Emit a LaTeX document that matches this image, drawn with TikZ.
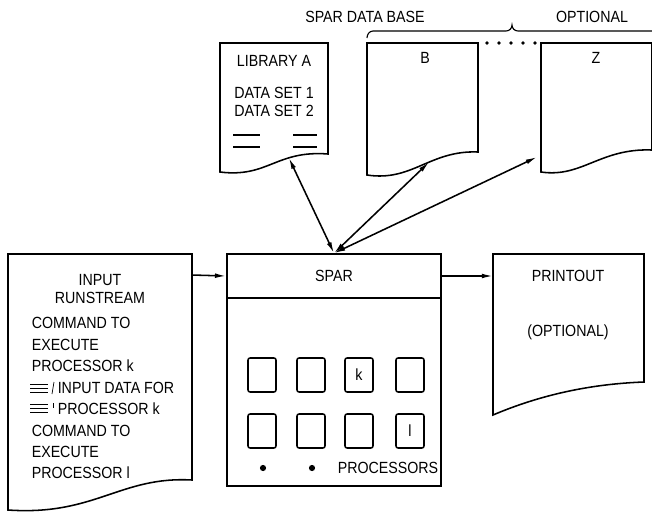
\documentclass[tikz,border=0pt]{standalone}
\usepackage{fontspec}
\setmainfont{Liberation Sans}[FakeStretch=0.88]
\usetikzlibrary{arrows.meta}

\tikzset{
  both/.style={{Latex[length=8pt,width=3.4pt]}-{Latex[length=8pt,width=3.4pt]}},
  feed/.style={-{Latex[length=8pt,width=3.4pt]}},
  procbox/.style={draw, rounded corners=1.5pt, minimum width=0.7cm, minimum height=0.85cm},
  txt/.style={font=\fontsize{11.5}{13}\selectfont, inner sep=0pt},
}

\begin{document}
\begin{tikzpicture}[x=0.025cm, y=-0.025cm, line width=1.1pt]
  \useasboundingbox (0,0) rectangle (652,522);

  % data base heading and brace
  \node[txt] (dbase) at (365,17) {SPAR DATA BASE};
  \node[txt] (opt) at (592,17) {OPTIONAL};
  \draw[line width=0.8pt] (367,38) to[out=90,in=180] (373,31) -- (506,31)
    to[out=0,in=-90] (512,25) to[out=-90,in=180] (518,31) -- (660,31);

  % library A
  \draw (220,43) -- (328,43) -- (328,154)
    .. controls (276,150) and (268,178) .. (220,172) coordinate[pos=0.32] (libfoot) -- cycle;
  \node[txt] (liba) at (274,61) {LIBRARY A};
  \node[txt] (set1) at (274,93) {DATA SET 1};
  \node[txt] (set2) at (274,111) {DATA SET 2};
  \draw (233,135) -- (260,135);
  \draw (233,147) -- (260,147);
  \draw (293,135) -- (317,135);
  \draw (293,147) -- (317,147);

  % data base files B ... Z
  \draw (367,43) -- (478,43) -- (478,152)
    .. controls (430,150) and (412,182) .. (367,175) coordinate[pos=0.42] (bfoot) -- cycle;
  \node[txt] (bfile) at (425,58) {B};
  \draw (541,43) -- (652,43) -- (652,150)
    .. controls (600,148) and (582,178) .. (541,172) -- cycle;
  \node[txt] (zfile) at (596,58) {Z};
  \coordinate (zfoot) at (537,157);
  \foreach \x in {487,499,511,523,535}
    \fill (\x,43) circle (1.3pt);

  % input runstream
  \draw (8,254) -- (192,254) -- (192,480)
    .. controls (120,476) and (95,516) .. (8,510) -- cycle;
  \coordinate (inright) at (192,275);
  \node[txt] (inp) at (100,280) {INPUT};
  \node[txt] (runs) at (100,298) {RUNSTREAM};
  \node[txt, anchor=west] (c1) at (31,323) {COMMAND TO};
  \node[txt, anchor=west] (e1) at (31,345) {EXECUTE};
  \node[txt, anchor=west] (pk) at (31,366) {PROCESSOR k};
  \node[txt, anchor=west] (dfor) at (57,388) {INPUT DATA FOR};
  \node[txt, anchor=west] (dpk) at (57,409) {PROCESSOR k};
  \node[txt, anchor=west] (c2) at (31,431) {COMMAND TO};
  \node[txt, anchor=west] (e2) at (31,452) {EXECUTE};
  \node[txt, anchor=west] (pl) at (31,473) {PROCESSOR l};
  \begin{scope}[line width=0.5pt]
    \draw (30,384) -- (48,384);
    \draw (30,388) -- (48,388);
    \draw (30,392) -- (48,392);
    \draw (30,404) -- (48,404);
    \draw (30,408) -- (48,408);
    \draw (30,412) -- (48,412);
    \draw (54,382) -- (52,394);
    \draw (53,403) -- (53,408);
  \end{scope}

  % spar
  \node[draw, minimum width=5.35cm, minimum height=5.8cm] (spar) at (334,370) {};
  \draw (spar.west |- 0,298) -- (spar.east |- 0,298);
  \node[txt] (sparlbl) at (334,276) {SPAR};
  \node[procbox] (p1) at (262,375) {};
  \node[procbox] (p2) at (311,375) {};
  \node[procbox, txt] (p3) at (359,375) {k};
  \node[procbox] (p4) at (410,375) {};
  \node[procbox] (p5) at (262,431) {};
  \node[procbox] (p6) at (311,431) {};
  \node[procbox] (p7) at (359,431) {};
  \node[procbox, txt] (p8) at (410,431) {l};
  \fill (263,468) circle (2.2pt);
  \fill (312,468) circle (2.2pt);
  \node[txt] (procs) at (388,468) {PROCESSORS};

  % printout
  \draw (493,254) -- (644,254) -- (644,382)
    .. controls (590,384) and (540,395) .. (493,415) -- cycle;
  \coordinate (prleft) at (493,276);
  \node[txt] (prt) at (568,276) {PRINTOUT};
  \node[txt] (propt) at (568,332) {(OPTIONAL)};

  % connectors
  \draw[feed] (inright) -- (spar.west |- sparlbl);
  \draw[feed] (spar.east |- sparlbl) -- (prleft);
  \draw[both] (spar.north) -- (libfoot);
  \draw[both] (spar.north) -- (bfoot);
  \draw[both] (spar.north) -- (zfoot);
\end{tikzpicture}
\end{document}
